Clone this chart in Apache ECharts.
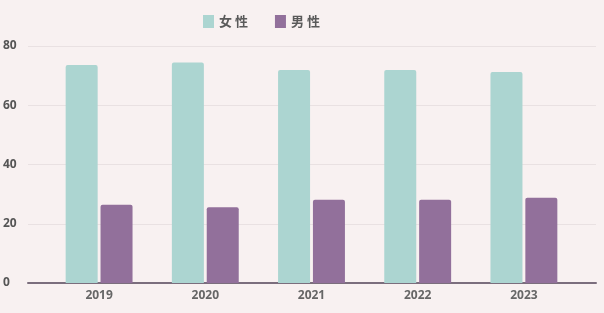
<!DOCTYPE html>
<html><head><meta charset="utf-8">
<script src="https://cdn.jsdelivr.net/npm/echarts@6/dist/echarts.min.js"></script>
<style>html,body{margin:0;padding:0;background:#f8f1f1;}#c{width:604px;height:313px;}</style>
</head><body><div id="c"></div>
<script>
const years = ['2019','2020','2021','2022','2023'];
const female = [73.6, 74.4, 71.9, 71.9, 71.2];
const male = [26.4, 25.6, 28.1, 28.1, 28.8];
const yTicks = [0, 20, 40, 60, 80];
const seriesNames = ['女性', '男性'];

const chart = echarts.init(document.getElementById('c'));
chart.setOption({
  backgroundColor: '#f8f1f1',
  animation: false,
  textStyle: {fontFamily: 'Lato, "Noto Sans CJK SC", sans-serif'},
  legend: {
    top: 10, left: 198, itemWidth: 11, itemHeight: 13, itemGap: 27,
    icon: 'rect',
    formatter: n => n.split('').join(' '),
    textStyle: {fontSize: 13, color: '#5a5a5a', fontWeight: 'bold', fontFamily: '"Noto Sans CJK SC", sans-serif'},
    data: seriesNames
  },
  grid: [
    {left: 28, right: 8, top: 46, bottom: 30},
    {left: 46, right: 27, top: 46, bottom: 30}
  ],
  xAxis: [
    {gridIndex: 0, type: 'value', min: 0, max: 1, axisLabel: {show: false}, axisTick: {show: false}, splitLine: {show: false},
     axisLine: {show: true, lineStyle: {color: '#7b6e7d', width: 2}}},
    {gridIndex: 1, type: 'category', data: years, axisLine: {show: false}, axisTick: {show: false},
     axisLabel: {color: '#666', fontSize: 12, fontWeight: 'bold', margin: 7, fontFamily: '"Open Sans", sans-serif'}}
  ],
  yAxis: [
    {gridIndex: 0, type: 'value', min: yTicks[0], max: yTicks[yTicks.length-1], interval: 20,
     axisLine: {show: false}, axisTick: {show: false},
     axisLabel: {color: '#555', fontSize: 12, fontWeight: 'bold', align: 'left', margin: 25, padding: [0,0,7,0], fontFamily: '"Open Sans", sans-serif'},
     splitLine: {lineStyle: {color: '#e9e1e2', width: 1}}},
    {gridIndex: 1, type: 'value', min: yTicks[0], max: yTicks[yTicks.length-1], interval: 20, show: false}
  ],
  series: [
    {name: seriesNames[0], type: 'bar', xAxisIndex: 1, yAxisIndex: 1, data: female, barWidth: 32, barGap: '9%',
     itemStyle: {color: '#acd5d1', borderRadius: [2,2,0,0]}},
    {name: seriesNames[1], type: 'bar', xAxisIndex: 1, yAxisIndex: 1, data: male, barWidth: 32, barGap: '9%',
     itemStyle: {color: '#92709b', borderRadius: [2,2,0,0]}}
  ]
});
</script></body></html>
